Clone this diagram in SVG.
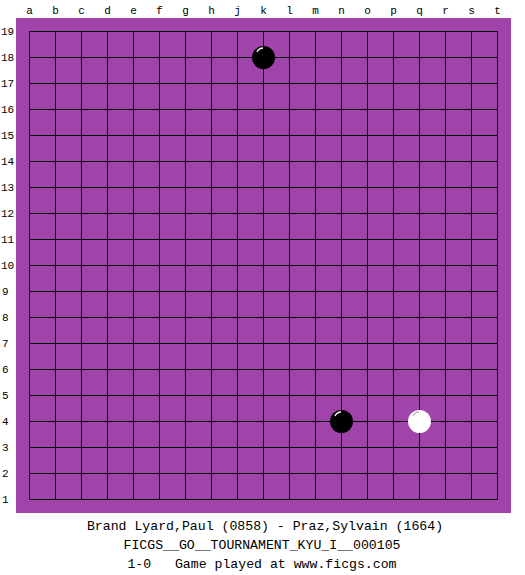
<svg xmlns="http://www.w3.org/2000/svg" width="525" height="575" viewBox="0 0 525 575">
<style>
.lbl{font-family:"Liberation Mono","DejaVu Sans Mono",monospace;font-size:11px;fill:#000}
.cap{font-family:"Liberation Mono","DejaVu Sans Mono",monospace;font-size:13.2px;fill:#000;text-anchor:middle;white-space:pre}
.grid line{stroke:#000;stroke-width:1}
</style>
<rect x="0" y="0" width="525" height="575" fill="#fff"/>
<rect id="board" x="16" y="18" width="495" height="495" fill="#a043ab"/>
<g class="grid" id="grid">
<line x1="29.5" y1="31.5" x2="29.5" y2="499.5"/><line x1="55.5" y1="31.5" x2="55.5" y2="499.5"/><line x1="81.5" y1="31.5" x2="81.5" y2="499.5"/><line x1="107.5" y1="31.5" x2="107.5" y2="499.5"/><line x1="133.5" y1="31.5" x2="133.5" y2="499.5"/><line x1="159.5" y1="31.5" x2="159.5" y2="499.5"/><line x1="185.5" y1="31.5" x2="185.5" y2="499.5"/><line x1="211.5" y1="31.5" x2="211.5" y2="499.5"/><line x1="237.5" y1="31.5" x2="237.5" y2="499.5"/><line x1="263.5" y1="31.5" x2="263.5" y2="499.5"/><line x1="289.5" y1="31.5" x2="289.5" y2="499.5"/><line x1="315.5" y1="31.5" x2="315.5" y2="499.5"/><line x1="341.5" y1="31.5" x2="341.5" y2="499.5"/><line x1="367.5" y1="31.5" x2="367.5" y2="499.5"/><line x1="393.5" y1="31.5" x2="393.5" y2="499.5"/><line x1="419.5" y1="31.5" x2="419.5" y2="499.5"/><line x1="445.5" y1="31.5" x2="445.5" y2="499.5"/><line x1="471.5" y1="31.5" x2="471.5" y2="499.5"/><line x1="497.5" y1="31.5" x2="497.5" y2="499.5"/>
<line x1="29.5" y1="31.5" x2="497.5" y2="31.5"/><line x1="29.5" y1="57.5" x2="497.5" y2="57.5"/><line x1="29.5" y1="83.5" x2="497.5" y2="83.5"/><line x1="29.5" y1="109.5" x2="497.5" y2="109.5"/><line x1="29.5" y1="135.5" x2="497.5" y2="135.5"/><line x1="29.5" y1="161.5" x2="497.5" y2="161.5"/><line x1="29.5" y1="187.5" x2="497.5" y2="187.5"/><line x1="29.5" y1="213.5" x2="497.5" y2="213.5"/><line x1="29.5" y1="239.5" x2="497.5" y2="239.5"/><line x1="29.5" y1="265.5" x2="497.5" y2="265.5"/><line x1="29.5" y1="291.5" x2="497.5" y2="291.5"/><line x1="29.5" y1="317.5" x2="497.5" y2="317.5"/><line x1="29.5" y1="343.5" x2="497.5" y2="343.5"/><line x1="29.5" y1="369.5" x2="497.5" y2="369.5"/><line x1="29.5" y1="395.5" x2="497.5" y2="395.5"/><line x1="29.5" y1="421.5" x2="497.5" y2="421.5"/><line x1="29.5" y1="447.5" x2="497.5" y2="447.5"/><line x1="29.5" y1="473.5" x2="497.5" y2="473.5"/><line x1="29.5" y1="499.5" x2="497.5" y2="499.5"/>
</g>
<g id="col-labels" class="lbl" text-anchor="middle">
<text x="29.5" y="14">a</text><text x="55.5" y="14">b</text><text x="81.5" y="14">c</text><text x="107.5" y="14">d</text><text x="133.5" y="14">e</text><text x="159.5" y="14">f</text><text x="185.5" y="14">g</text><text x="211.5" y="14">h</text><text x="237.5" y="14">j</text><text x="263.5" y="14">k</text><text x="289.5" y="14">l</text><text x="315.5" y="14">m</text><text x="341.5" y="14">n</text><text x="367.5" y="14">o</text><text x="393.5" y="14">p</text><text x="419.5" y="14">q</text><text x="445.5" y="14">r</text><text x="471.5" y="14">s</text><text x="497.5" y="14">t</text>
</g>
<g id="row-labels" class="lbl">
<text x="1" y="35">19</text><text x="1" y="61">18</text><text x="1" y="87">17</text><text x="1" y="113">16</text><text x="1" y="139">15</text><text x="1" y="165">14</text><text x="1" y="191">13</text><text x="1" y="217">12</text><text x="1" y="243">11</text><text x="1" y="269">10</text><text x="2" y="295">9</text><text x="2" y="321">8</text><text x="2" y="347">7</text><text x="2" y="373">6</text><text x="2" y="399">5</text><text x="2" y="425">4</text><text x="2" y="451">3</text><text x="2" y="477">2</text><text x="2" y="503">1</text>
</g>
<g id="stone-k18">
<circle cx="263.5" cy="57.5" r="11.5" fill="#000"/>
<path d="M257,52 A7,7 0 0 1 263,48" fill="none" stroke="#fff" stroke-width="1.3"/>
</g>
<g id="stone-n4">
<circle cx="341.5" cy="421.5" r="11.5" fill="#000"/>
<path d="M335,416 A7,7 0 0 1 341,412" fill="none" stroke="#fff" stroke-width="1.3"/>
</g>
<g id="stone-q4">
<circle cx="419.5" cy="421.5" r="11.5" fill="#fff"/>
<path d="M413,416 A7,7 0 0 1 419,412" fill="none" stroke="#bbb" stroke-width="1.3"/>
</g>
<g id="caption">
<text class="cap" x="265" y="530">Brand Lyard,Paul (0858) - Praz,Sylvain (1664)</text>
<text class="cap" x="262" y="549">FICGS__GO__TOURNAMENT_KYU_I__000105</text>
<text class="cap" x="262" y="568">1-0   Game played at www.ficgs.com</text>
</g>
</svg>
